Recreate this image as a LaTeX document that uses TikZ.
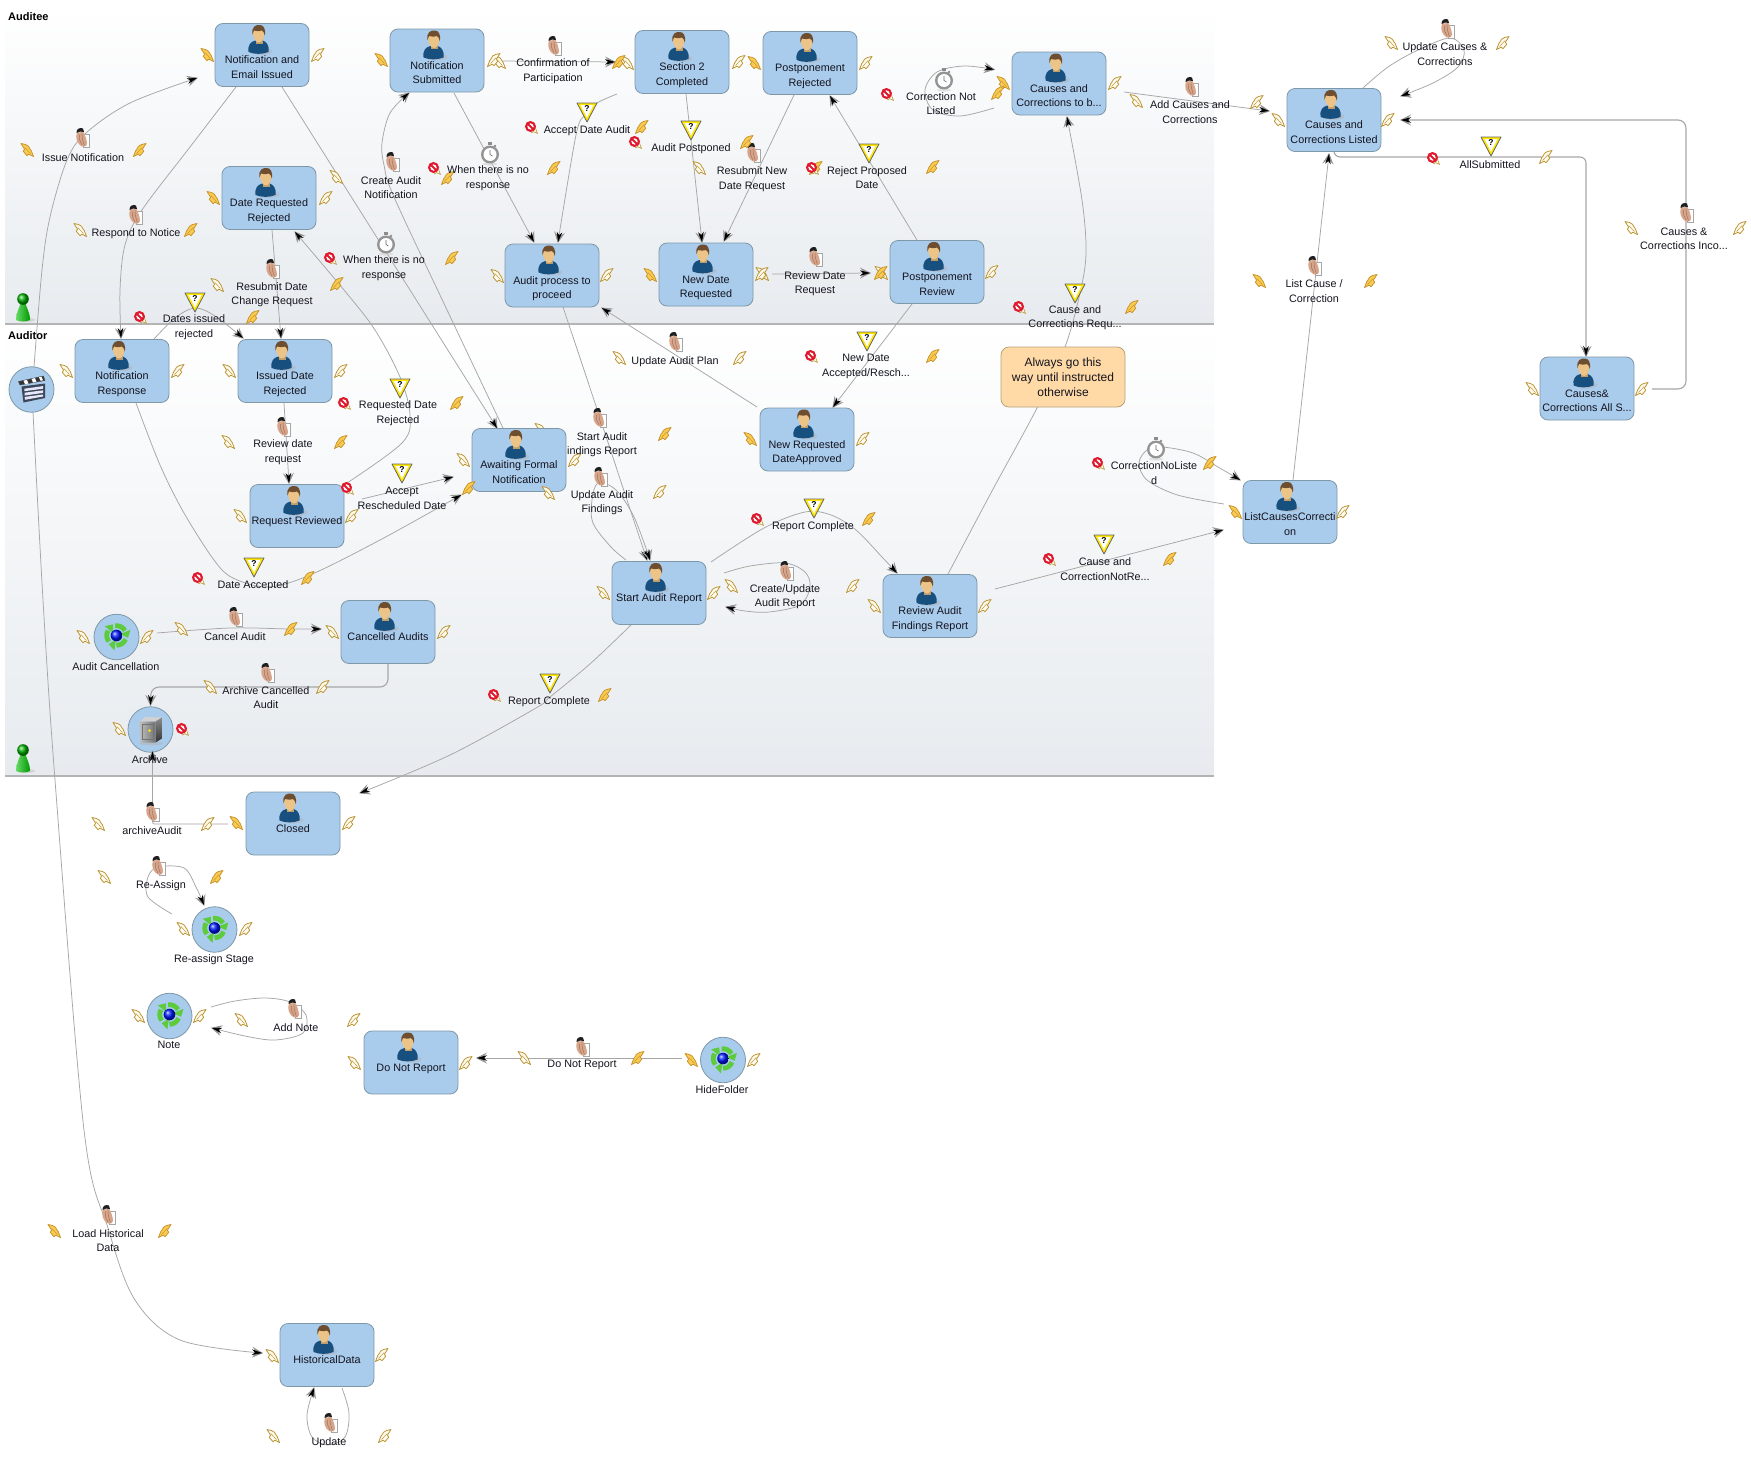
\documentclass[tikz,border=0pt]{standalone}
\usepackage{fontspec}
\setmainfont{Liberation Sans}
\usetikzlibrary{arrows.meta,shapes.geometric}
\definecolor{boxblue}{HTML}{A9CBEC}
\definecolor{boxline}{HTML}{7F98A8}
\definecolor{notefill}{HTML}{FFD9A6}
\definecolor{noteline}{HTML}{B8A27C}
\definecolor{wire}{HTML}{A6A6A6}
\definecolor{lanegray}{HTML}{E7EBEF}
\definecolor{laneline}{HTML}{B4B4B4}
\definecolor{txt}{HTML}{14141E}
\definecolor{skin}{HTML}{EDC487}
\definecolor{hair}{HTML}{6E4E2E}
\definecolor{shirt}{HTML}{17507F}
\definecolor{handc}{HTML}{D9A58A}
\definecolor{fyel}{HTML}{F9CB52}
\definecolor{fyeld}{HTML}{C9952C}
\definecolor{hyel}{HTML}{FFFBEE}
\definecolor{hyeld}{HTML}{BC9537}
\definecolor{stopred}{HTML}{E0192F}
\definecolor{recyc}{HTML}{5CCB3C}
\definecolor{slate}{HTML}{3B4656}
\newcommand{\featherpath}{(-6,-6.5) -- (-1.5,-5.5) -- (1.5,-3.7) -- (3,-1) -- (4.2,0.5) -- (6.5,6.5) -- (1.8,4.2) -- (0,5.7) -- (-3.7,1.3) -- (-2.4,-0.8) -- cycle}
\newcommand{\boxtxt}[1]{\parbox[c][63pt][t]{94pt}{\centering\rule{0pt}{40.3pt}#1\par}}
\newcommand{\wfbox}[4]{\node[wfstate] (#1) at (#2,#3) {\boxtxt{#4}}; \pic at ([shift={(-3.5,-29.5)}]#1.center) {personicon};}
\tikzset{
  x=1pt,y=-1pt,
  conn/.style={draw=wire,line width=.75pt,-{Stealth[length=11pt,width=11pt,inset=4.5pt,black!42,sep=-11pt]Stealth[length=10pt,width=5.5pt,inset=3pt,black]}},
  ortho/.style={conn,line width=1.1pt,rounded corners=8pt},
  curve/.style={conn,smooth,tension=.55},
  wfstate/.style={draw=boxline,fill=boxblue,rounded corners=8pt,inner sep=0pt,line width=.8pt,text=txt,font=\fontsize{10.8}{14.5}\selectfont},
  wfnote/.style={draw=noteline,fill=notefill,rounded corners=8pt,inner sep=0pt,line width=.8pt,text=txt,align=center,minimum width=124pt,minimum height=60pt,font=\fontsize{12}{15}\selectfont},
  wfround/.style={draw=boxline,fill=boxblue,ellipse,inner sep=0pt,minimum width=45pt,minimum height=45.5pt,line width=.8pt},
  lbl/.style={align=center,inner sep=0pt,text=txt,yshift=-1.3pt,font=\fontsize{10.8}{14.5}\selectfont},
  lanetitle/.style={anchor=west,inner sep=0pt,text=black,font=\fontsize{11}{13}\selectfont\bfseries},
  pics/lf/.style={code={\path[draw=fyeld,fill=fyel,line width=.8pt,line join=round] \featherpath; \draw[fyeld,line width=.5pt] (-2.2,-2.5) -- (3.5,3.5);}},
  pics/lh/.style={code={\path[draw=hyeld,fill=hyel,line width=.8pt,line join=round] \featherpath; \draw[hyeld,line width=.5pt] (-2.2,-2.5) -- (3.5,3.5);}},
  pics/rf/.style={code={\begin{scope}[xscale=-1]\path[draw=fyeld,fill=fyel,line width=.8pt,line join=round] \featherpath; \draw[fyeld,line width=.5pt] (-2.2,-2.5) -- (3.5,3.5);\end{scope}}},
  pics/rh/.style={code={\begin{scope}[xscale=-1]\path[draw=hyeld,fill=hyel,line width=.8pt,line join=round] \featherpath; \draw[hyeld,line width=.5pt] (-2.2,-2.5) -- (3.5,3.5);\end{scope}}},
  pics/personicon/.style={code={
    \fill[black!30,opacity=.45] (3,26) ellipse (11pt and 3.5pt);
    \fill[shirt] (-10,26.5) .. controls (-11,20) and (-8,16) .. (-3,15) -- (4,15) .. controls (8,16) and (11,20) .. (10,26.5) .. controls (4,29) and (-4,29) .. cycle;
    \fill[skin!80!black] (-3,12) rectangle (4,18);
    \fill[skin] (-5.5,5) .. controls (-6,11) and (-3,17) .. (0.5,17) .. controls (4,17) and (6.5,11) .. (6,5) .. controls (5,0) and (-4,0) .. cycle;
    \fill[hair] (-6,9) .. controls (-7.5,1) and (-2,-1) .. (1,-.5) .. controls (5,-.5) and (7.5,3) .. (6.3,10) .. controls (5.5,7) and (5,6) .. (3.5,5) .. controls (0,6) and (-3,5.5) .. (-4.5,5) .. controls (-5,6.5) and (-5.5,7) .. cycle;
  }},
  pics/handicon/.style={code={
    \draw[black!35,fill=white,line width=.5pt] (1,-4) rectangle (7,9);
    \fill[handc] (-5,-5.5) .. controls (-7,0) and (-5,6) .. (0,8.5) .. controls (3,9) and (5,8) .. (5,6) .. controls (5,2) and (3,-3) .. (1.5,-6) -- cycle;
    \draw[handc!70!black,line width=.5pt] (-2.5,-3) .. controls (-3,1) and (-2,4) .. (0,7) (0,-4) .. controls (0,0) and (1,4) .. (2.5,7.5);
    \fill[black!88] (-5.5,-5) .. controls (-6,-9) and (-2,-11) .. (1,-9.5) -- (2,-6) .. controls (-1,-7) and (-3,-6.5) .. cycle;
  }},
  pics/noentry/.style={code={
    \begin{scope}[shift={(1,1)},scale=.85]\path[draw=hyeld,fill=hyel,line width=.6pt,line join=round] \featherpath;\end{scope}
    \fill[white] (-.5,-.5) circle (5pt);
    \draw[stopred,line width=2.1pt] (-.5,-.5) circle (4.4pt);
    \draw[stopred,line width=1.9pt] (-3.5,-3.5) -- (2.5,2.5);
  }},
  pics/yieldicon/.style={code={
    \path[draw=black!60,fill=yellow!88!orange,line width=.8pt,line join=round] (-10,-9) -- (10,-9) -- (0,10) -- cycle;
    \fill[white] (-6.5,-7) -- (6.5,-7) -- (0,5.5) -- cycle;
    \node[inner sep=0pt,font=\fontsize{8.5}{9}\selectfont\bfseries] (yq) at (0,-3) {?};
  }},
  pics/watchicon/.style={code={
    \fill[black!45] (-1,-11) rectangle (3,-8);
    \fill[black!45] (6,-7) circle (1.4pt);
    \fill[black!20,opacity=.5] (1,11) ellipse (7pt and 1.6pt);
    \fill[black!42] (1,1.5) circle (9pt);
    \fill[white] (1,1.5) circle (6.5pt);
    \draw[black!60,line width=.6pt] (1,1.5) -- (1,-3) (1,1.5) -- (3.5,3);
  }},
  pics/pawnicon/.style={code={
    \fill[black!25,opacity=.5] (3,13) ellipse (9pt and 2pt);
    \shade[left color=green!75!black!60!white,right color=green!60!black] (-7,13) .. controls (-7,5) and (-3,0) .. (-2.5,-4) -- (2.5,-4) .. controls (3,0) and (7,5) .. (7,13) .. controls (3,15) and (-3,15) .. cycle;
    \shade[ball color=green!70!black] (0,-8) circle (5.8pt);
  }},
  pics/recycleicon/.style={code={
    \foreach \a in {30,150,270}{
      \draw[recyc,line width=4.8pt] (\a:9.8pt) arc[start angle=\a,end angle=\a+68,radius=9.8pt];
      \fill[recyc,rotate={-(\a+68)}] (4pt,0) -- (15pt,0) -- (9.8pt,-6.5pt) -- cycle;
    }
    \shade[ball color=blue!90!cyan] (0,0) circle (5.8pt);
  }},
  pics/clappericon/.style={code={
    \path[draw=black!70,fill=black!80,line width=.4pt] (-13,-8) -- (12,-13.5) -- (13.5,-9) -- (-11.5,-4.5) -- cycle;
    \fill[white] (-8,-8.8) -- (-4.5,-9.6) -- (-3,-6) -- (-6.5,-5.4) -- cycle (0,-10.6) -- (3.5,-11.4) -- (5,-7.6) -- (1.5,-7) -- cycle (7.5,-12.2) -- (10,-12.8) -- (11.5,-9.2) -- (9,-8.8) -- cycle;
    \path[fill=slate] (-10,-3) -- (13.5,-6) -- (13.5,8.5) -- (-8,13) -- cycle;
    \fill[black!10!blue!10!white] (-7.2,-.8) -- (11.5,-3.4) -- (11.5,-.8) -- (-7,1.7) -- cycle;
    \fill[black!10!blue!10!white] (-7,3.2) -- (11.5,.8) -- (11.5,3.4) -- (-6.8,6) -- cycle;
    \fill[black!10!blue!10!white] (-6.8,7.4) -- (11.5,5) -- (11.5,7) -- (-6.6,10.3) -- cycle;
  }},
  pics/safeicon/.style={code={
    \fill[black!30,opacity=.5] (1,14) ellipse (12pt and 1.8pt);
    \fill[black!18] (-11,-8) -- (-5,-12.5) -- (11.5,-12) -- (5,-8) -- cycle;
    \shade[top color=black!45,bottom color=black!80] (5,-8) -- (11.5,-12) -- (11.5,9) -- (5,13) -- cycle;
    \shade[left color=black!25,right color=black!55] (-11,-8) -- (5,-8) -- (5,13) -- (-10,13) -- cycle;
    \draw[black!55,line width=.4pt] (-8.5,-5.5) rectangle (2.5,10);
    \fill[yellow!85!orange] (-1,1) circle (1.5pt);
  }},
}
\begin{document}
\begin{tikzpicture}
\useasboundingbox (0,0) rectangle (1751,1459);
\fill[white] (0,0) rectangle (1751,1459);
% swimlanes
\shade[top color=white,bottom color=lanegray] (5,8) rectangle (1214,323);
\shade[top color=white,bottom color=lanegray] (5,325) rectangle (1214,775);
\draw[laneline,line width=1.6pt] (5,324) -- (1214,324);
\draw[laneline,line width=1.6pt] (5,776) -- (1214,776);
\node[lanetitle] (laneA) at (8,17) {Auditee};
\node[lanetitle] (laneB) at (8,336) {Auditor};
% anchors of the states, so that connectors can refer to them
\foreach \n/\x/\y in {b1/262/55,b2/437/60.5,b3/682/62,b4/810/63,b5/1059/83.5,b6/1334/120,b7/269/198,b8/552/275.5,b9/706/274.5,b10/937/272,b11/122/371,b12/285/371,b13/297/516,b14/519/460,b15/807/439.5,b16/659/593,b17/930/606,b18/1290/512,b19/1587/388.5,b20/388/632,b21/293/823.5,b22/411/1062.5,b23/327/1355,c0/31.5/389.5,c1/116.5/637,c2/150.5/729.5,c3/214.5/929.5,c4/169.5/1016,c5/723/1060}
  \coordinate (\n) at (\x,\y);
% connectors
\draw[curve] plot coordinates {([shift={(2.5,-22.5)}]c0) (42,270) (50,217) (67,160) (86,133) (130,103) ([shift={(-65,23)}]b1)};
\draw[curve] plot coordinates {([shift={(-26,32)}]b1) (190,147) (142,210) (125,245) (120,290) ([shift={(-1,-33)}]b11)};
\draw[conn] ([shift={(20,32)}]b1) -- ([shift={(-22,-32)}]b14);
\draw[curve] plot coordinates {([shift={(-16,-32)}]b14) (448,312) (394,197) (384,165) (382,143) (390,113) ([shift={(-28,32.5)}]b2)};
\draw[conn] ([shift={(17,32.5)}]b2) -- ([shift={(-18,-33.5)}]b8);
\draw[conn] ([shift={(64,.5)}]b2) -- ([shift={(-67,0)}]b3);
\draw[curve] plot coordinates {([shift={(-65,32)}]b3) (597,103) (585,115) (576,135) ([shift={(6,-33.5)}]b8)};
\draw[conn] ([shift={(4,32)}]b3) -- ([shift={(-4,-32.5)}]b9);
\draw[conn] ([shift={(-16,32)}]b4) -- ([shift={(18,-33.5)}]b9);
\draw[conn] ([shift={(66,-.5)}]b9) -- ([shift={(-67,1)}]b10);
\draw[conn] ([shift={(-20,-32)}]b10) -- ([shift={(20,33)}]b4);
\draw[conn] ([shift={(-25,32)}]b10) -- ([shift={(26,-32.5)}]b15);
\draw[conn] ([shift={(-50,-32.5)}]b15) -- ([shift={(50,32.5)}]b8);
\draw[curve] plot coordinates {([shift={(11,31.5)}]b8) (594,400) (627,500) ([shift={(-12,-33)}]b16)};
\draw[curve] plot coordinates {([shift={(-33,-33)}]b16) (611,547) (593,523) (592,500) (598,483) (616,490) (634,517) ([shift={(-9,-33)}]b16)};
\draw[curve] plot coordinates {([shift={(52,-31)}]b16) (764,528) (805,512) (831,515) (856,530) (882,557) ([shift={(-33,-33)}]b17)};
\draw[curve] plot coordinates {([shift={(65,-20)}]b16) (750,566) (785,563) (805,572) (810,587) (800,605) (769,612) (745,611) ([shift={(67,14)}]b16)};
\draw[conn] ([shift={(65,-17)}]b17) -- ([shift={(-67,18)}]b18);
\draw[curve] plot coordinates {([shift={(18,-32)}]b17) (992,491) (1037,408) (1065,347) (1080,293) (1086,253) (1082,200) ([shift={(8,33.5)}]b5)};
\draw[curve] plot coordinates {([shift={(-65,24.5)}]b5) (960,116) (933,110) (925,90) (937,72) (964,66) ([shift={(-65,-14)}]b5)};
\draw[conn] ([shift={(65,8.5)}]b5) -- ([shift={(-65,-9)}]b6);
\draw[curve] plot coordinates {([shift={(29,-32)}]b6) (1388,67) (1418,50) (1450,38) (1464,50) (1458,67) (1433,83) ([shift={(67,-24)}]b6)};
\draw[ortho,rounded corners=6pt] ([shift={(0,32)}]b6) -- (1334,157) -- (1586,157) -- ([shift={(-1,-32.5)}]b19);
\draw[ortho] ([shift={(65,.5)}]b19) -- (1686,389) -- (1686,120) -- ([shift={(67,0)}]b6);
\draw[conn] ([shift={(3,-32)}]b18) -- ([shift={(-5,34)}]b6);
\draw[curve] plot coordinates {([shift={(-66,-8)}]b18) (1177.5,495) (1147,480) (1139,463) (1147,450) (1162,447) (1193,453) (1218,467) ([shift={(-50,-32)}]b18)};
\draw[curve] plot coordinates {([shift={(14,32)}]b11) (160,465) (184,513) (214,560) (233,578) (268,587) (310,575) (380,540) ([shift={(-58,35)}]b14)};
\draw[conn] ([shift={(65,-17)}]b13) -- ([shift={(-66,17)}]b14);
\draw[curve] plot coordinates {([shift={(47,-31)}]b13) (402,443) (410,415) (400,377) (375,330) (344,290) ([shift={(26,34)}]b7)};
\draw[conn] ([shift={(3,32)}]b7) -- ([shift={(-4,-33)}]b12);
\draw[curve] plot coordinates {([shift={(32,-32)}]b11) (175,318) (195,308) (215,316) ([shift={(-42,-33)}]b12)};
\draw[conn] ([shift={(-1,32)}]b12) -- ([shift={(-8,-33)}]b13);
\draw[curve] plot coordinates {([shift={(40.5,-4)}]c1) (230,628) (290,629) ([shift={(-67,-3)}]b20)};
\draw[ortho] ([shift={(0,32)}]b20) -- (388,687) -- (151,687) -- ([shift={(0,-24.5)}]c2);
\draw[curve] plot coordinates {([shift={(-28,32)}]b16) (591,663) (550,697) (536,708) (450,755) ([shift={(67,-30.5)}]b21)};
\draw[curve] plot coordinates {([shift={(-42.5,-15.5)}]c3) (148,897) (148,877) (158,867) (184,868) (196,887) ([shift={(-10.5,-24.5)}]c3)};
\draw[curve] plot coordinates {([shift={(41.5,-9)}]c4) (235,1001) (265,998) (290,1002) (306,1015) (303,1033) (275,1040) (245,1036) ([shift={(42.5,12)}]c4)};
\draw[conn] ([shift={(-41,-2)}]c5) -- ([shift={(66,-4.5)}]b22);
\draw[curve] plot coordinates {([shift={(1.5,22.5)}]c0) (43,600) (55,780) (84,1130) (108,1228) (135,1300) (180,1340) ([shift={(-65,-2)}]b23)};
\draw[curve] plot coordinates {([shift={(15,33)}]b23) (349,1413) (345,1437) (328,1445) (312,1437) (307,1415) ([shift={(-13,33)}]b23)};
% states
\pic at (541,430) {lh};
\wfbox{s1}{262}{55}{Notification and\\Email Issued}
\wfbox{s2}{437}{60.5}{Notification\\Submitted}
\wfbox{s3}{682}{62}{Section 2\\Completed}
\wfbox{s4}{810}{63}{Postponement\\Rejected}
\wfbox{s5}{1059}{83.5}{Causes and\\Corrections to b...}
\wfbox{s6}{1334}{120}{Causes and\\Corrections Listed}
\wfbox{s7}{269}{198}{Date Requested\\Rejected}
\wfbox{s8}{552}{275.5}{Audit process to\\proceed}
\wfbox{s9}{706}{274.5}{New Date\\Requested}
\wfbox{s10}{937}{272}{Postponement\\Review}
\wfbox{s11}{122}{371}{Notification\\Response}
\wfbox{s12}{285}{371}{Issued Date\\Rejected}
\wfbox{s13}{297}{516}{Request Reviewed}
\wfbox{s14}{519}{460}{Awaiting Formal\\Notification}
\wfbox{s15}{807}{439.5}{New Requested\\DateApproved}
\wfbox{s16}{659}{593}{Start Audit Report}
\wfbox{s17}{930}{606}{Review Audit\\Findings Report}
\wfbox{s18}{1290}{512}{ListCausesCorrecti\\on}
\wfbox{s19}{1587}{388.5}{Causes\&\\Corrections All S...}
\wfbox{s20}{388}{632}{Cancelled Audits}
\wfbox{s21}{293}{823.5}{Closed}
\wfbox{s22}{411}{1062.5}{Do Not Report}
\wfbox{s23}{327}{1355}{HistoricalData}
\node[wfnote] (noteA) at (1063,377) {Always go this\\way until instructed\\otherwise};
% round steps
\node[wfround] (r0) at (c0) {}; \pic at (r0.center) {clappericon};
\node[wfround] (r1) at (c1) {}; \pic at ([yshift=1.5pt]r1.center) {recycleicon};
\node[wfround] (r2) at (c2) {}; \pic at (r2.center) {safeicon};
\node[wfround] (r3) at (c3) {}; \pic at ([yshift=1.5pt]r3.center) {recycleicon};
\node[wfround] (r4) at (c4) {}; \pic at ([yshift=1.5pt]r4.center) {recycleicon};
\node[wfround] (r5) at (c5) {}; \pic at ([yshift=1.5pt]r5.center) {recycleicon};
% the arrow from archiveAudit ends on the rim of the Archive step
\draw[conn,rounded corners=2pt] ([shift={(-65,.5)}]b21) -- (152.5,824) -- ([shift={(2,22)}]c2);
\node[lbl] (lr1) at (116,665) {Audit Cancellation};
\node[lbl] (lr2) at (150,758) {Archive};
\node[lbl] (lr3) at (214,958) {Re-assign Stage};
\node[lbl] (lr4) at (169,1044) {Note};
\node[lbl] (lr5) at (722,1088) {HideFolder};
% pawns
\pic at (23,307) {pawnicon};
\pic at (23,758) {pawnicon};
% hands
\foreach \p in {(82,138),(135,215),(392,162),(554,46),(272,269),(753,153),(815,257),(1191,87),(1447,29),(1686,213),(1314,266),(675,342),(283,427),(599,418),(600,477),(786,571),(235,617),(267,673),(152,812),(158,866),(294,1009),(582,1047),(108,1215),(330,1423)}
  \pic at \p {handicon};
% stopwatches
\foreach \p in {(489,153),(385,243),(943,79),(1155,448)}
  \pic at \p {watchicon};
% gates
\foreach \p in {(587,112),(195,302),(691,130),(869,153),(1075,293),(867,341),(400,388),(402,473),(814,508),(1104,544),(254,567),(550,683),(1491,146)}
  \pic at \p {yieldicon};
% feathers
\foreach \p in {(80,230),(499,62),(627,63),(336,177),(217,285),(497,276),(699,168),(1136,101),(1278,120),(1391,43),(1631,228),(1532,389),(619,358),(66,371),(229,371),(228,442),(240,516),(463,460),(548,493),(603,593),(731,586),(874,606),(181,629),(83,637),(332,632),(210,687),(119,729),(98,824),(104,877),(183,929),(138,1016),(241,1020),(354,1063),(524,1058),(272,1356),(273,1436),(762,274),(881,273)}
  \pic at \p {lh};
\foreach \p in {(318,55),(494,60),(739,62),(866,63),(326,198),(607,275),(762,274),(992,272),(1115,83),(1257,102),(1388,120),(1503,43),(1546,157),(1740,228),(1642,389),(740,358),(863,439),(178,371),(341,371),(352,516),(575,460),(660,492),(714,593),(853,586),(985,606),(1343,512),(147,637),(444,632),(323,687),(208,824),(349,823),(246,929),(200,1016),(354,1020),(466,1063),(754,1060),(382,1355),(385,1436)}
  \pic at \p {rh};
\foreach \p in {(27,150),(207,55),(381,60),(754,63),(213,198),(650,275),(750,439),(1003,83),(1259,281),(236,823),(691,1060),(54,1231),(1235,512)}
  \pic at \p {lf};
\foreach \p in {(140,150),(191,230),(448,178),(554,168),(452,258),(337,284),(253,317),(642,127),(619,62),(747,142),(816,168),(933,167),(998,93),(881,273),(1371,281),(1132,307),(933,356),(457,403),(341,442),(469,488),(665,434),(869,519),(1170,559),(1210,463),(308,578),(291,629),(605,695),(217,877),(638,1058),(165,1231)}
  \pic at \p {rf};
% no-entry marks
\foreach \p in {(531,127),(434,168),(330,258),(140,317),(635,142),(812,168),(887,94),(1019,307),(811,356),(344,403),(347,488),(757,519),(1049,559),(1098,463),(198,578),(182,729),(494,695),(1433,158)}
  \pic at \p {noentry};
% labels
\node[lbl] (t1) at (83,156) {Issue Notification};
\node[lbl] (t2) at (136,232) {Respond to Notice};
\node[lbl] (t3) at (553,70) {Confirmation of\\Participation};
\node[lbl] (t4) at (587,129) {Accept Date Audit};
\node[lbl] (t5) at (488,177) {When there is no\\response};
\node[lbl] (t6) at (391,186.5) {Create Audit\\Notification};
\node[lbl] (t7) at (384,267) {When there is no\\response};
\node[lbl] (t8) at (272,293.5) {Resubmit Date\\Change Request};
\node[lbl] (t9) at (194,326) {Dates issued\\rejected};
\node[lbl] (t10) at (815,282.5) {Review Date\\Request};
\node[lbl] (t11) at (691,147) {Audit Postponed};
\node[lbl] (t12) at (752,178) {Resubmit New\\Date Request};
\node[lbl] (t13) at (867,176.5) {Reject Proposed\\Date};
\node[lbl] (t14) at (941,102.5) {Correction Not\\Listed};
\node[lbl] (t15) at (1190,111) {Add Causes and\\Corrections};
\node[lbl] (t16) at (1445,53) {Update Causes \&\\Corrections};
\node[lbl] (t17) at (1490,163) {AllSubmitted};
\node[lbl] (t18) at (1684,237.5) {Causes \&\\Corrections Inco...};
\node[lbl] (t19) at (1314,290) {List Cause /\\Correction};
\node[lbl] (t20) at (1075,316.5) {Cause and\\Corrections Requ...};
\node[lbl] (t21) at (675,360) {Update Audit Plan};
\node[lbl] (t22) at (866,365) {New Date\\Accepted/Resch...};
\node[lbl] (t23) at (398,412) {Requested Date\\Rejected};
\node[lbl] (t24) at (283,451) {Review date\\request};
\node[lbl] (t25) at (402,497) {Accept\\Rescheduled Date};
\node[lbl] (t26) at (602,443.5) {Start Audit\\indings Report};
\node[lbl] (t27) at (602,501.5) {Update Audit\\Findings};
\node[lbl] (t28) at (813,525) {Report Complete};
\node[lbl] (t29) at (785,595.5) {Create/Update\\Audit Report};
\node[lbl] (t30) at (1105,568) {Cause and\\CorrectionNotRe...};
\node[lbl] (t31) at (1154,472) {CorrectionNoListe\\d};
\node[lbl] (t32) at (253,584) {Date Accepted};
\node[lbl] (t33) at (235,635) {Cancel Audit};
\node[lbl] (t34) at (266,696.5) {Archive Cancelled\\Audit};
\node[lbl] (t35) at (549,700) {Report Complete};
\node[lbl] (t36) at (152,829) {archiveAudit};
\node[lbl] (t37) at (161,884) {Re-Assign};
\node[lbl] (t38) at (296,1026) {Add Note};
\node[lbl] (t39) at (582,1064) {Do Not Report};
\node[lbl] (t40) at (108,1239.5) {Load Historical\\Data};
\node[lbl] (t41) at (329,1441) {Update};
\end{tikzpicture}
\end{document}
